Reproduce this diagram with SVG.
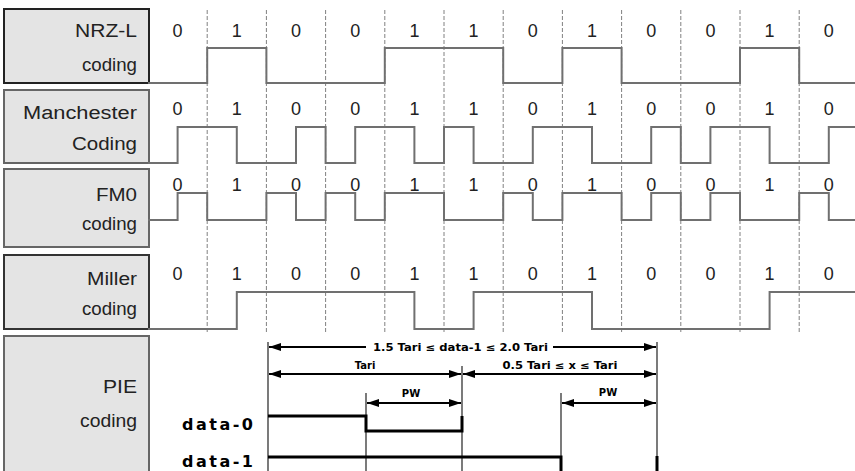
<svg xmlns="http://www.w3.org/2000/svg" width="855" height="471" viewBox="0 0 855 471">
<style>
.box{fill:#e4e4e4;stroke:#555;stroke-width:2}
.lbl{font-family:"Liberation Sans",Arial,sans-serif;font-size:18px;fill:#222}
.dig{font-family:"Liberation Sans",Arial,sans-serif;font-size:18px;fill:#222;text-anchor:middle}
.wave{fill:none;stroke:#707070;stroke-width:2}
.grid{stroke:#808080;stroke-width:1;stroke-dasharray:4 2}
.thin{stroke:#222;stroke-width:1.2}
.dim{stroke:#000;stroke-width:2;fill:none}
.bold{font-family:"DejaVu Sans",Verdana,sans-serif;font-weight:bold;font-size:10px;fill:#000;text-anchor:middle}
.data{font-family:"DejaVu Sans",Verdana,sans-serif;font-weight:bold;font-size:16px;fill:#000}
.sig{fill:none;stroke:#000;stroke-width:3}
</style>
<defs>
<marker id="ah" viewBox="0 0 12 8" refX="12" refY="4" markerWidth="12" markerHeight="8" markerUnits="userSpaceOnUse" orient="auto-start-reverse">
<path d="M0,0 L12,4 L0,8 Z" fill="#000"/>
</marker>
</defs>
<g id="grid">
<line class="grid" x1="207.2" y1="10" x2="207.2" y2="332"/>
<line class="grid" x1="266.4" y1="10" x2="266.4" y2="332"/>
<line class="grid" x1="325.6" y1="10" x2="325.6" y2="332"/>
<line class="grid" x1="384.8" y1="10" x2="384.8" y2="332"/>
<line class="grid" x1="444" y1="10" x2="444" y2="332"/>
<line class="grid" x1="503.2" y1="10" x2="503.2" y2="332"/>
<line class="grid" x1="562.4" y1="10" x2="562.4" y2="332"/>
<line class="grid" x1="621.6" y1="10" x2="621.6" y2="332"/>
<line class="grid" x1="680.8" y1="10" x2="680.8" y2="332"/>
<line class="grid" x1="740" y1="10" x2="740" y2="332"/>
<line class="grid" x1="799.2" y1="10" x2="799.2" y2="332"/>
</g>
<g id="nrzl">
<rect class="box" x="4" y="9" width="145" height="74" style="stroke:#222"/>
<text class="lbl" x="75" y="37" textLength="62" lengthAdjust="spacingAndGlyphs">NRZ-L</text>
<text class="lbl" x="82" y="71" textLength="55" lengthAdjust="spacingAndGlyphs">coding</text>
<text class="dig" x="177.6" y="37">0</text><text class="dig" x="236.8" y="37">1</text><text class="dig" x="296" y="37">0</text><text class="dig" x="355.2" y="37">0</text><text class="dig" x="414.4" y="37">1</text><text class="dig" x="473.6" y="37">1</text><text class="dig" x="532.8" y="37">0</text><text class="dig" x="592" y="37">1</text><text class="dig" x="651.2" y="37">0</text><text class="dig" x="710.4" y="37">0</text><text class="dig" x="769.6" y="37">1</text><text class="dig" x="828.8" y="37">0</text>
<path class="wave" d="M148,83 H207.2 V48 H266.4 V83 H384.8 V48 H503.2 V83 H562.4 V48 H621.6 V83 H740 V48 H799.2 V83 H855"/>
</g>
<g id="manchester">
<rect class="box" x="4" y="90" width="145" height="73" style="stroke:#666"/>
<text class="lbl" x="23" y="119" textLength="114" lengthAdjust="spacingAndGlyphs">Manchester</text>
<text class="lbl" x="72" y="150" textLength="65" lengthAdjust="spacingAndGlyphs">Coding</text>
<text class="dig" x="177.6" y="115">0</text><text class="dig" x="236.8" y="115">1</text><text class="dig" x="296" y="115">0</text><text class="dig" x="355.2" y="115">0</text><text class="dig" x="414.4" y="115">1</text><text class="dig" x="473.6" y="115">1</text><text class="dig" x="532.8" y="115">0</text><text class="dig" x="592" y="115">1</text><text class="dig" x="651.2" y="115">0</text><text class="dig" x="710.4" y="115">0</text><text class="dig" x="769.6" y="115">1</text><text class="dig" x="828.8" y="115">0</text>
<path class="wave" d="M148,163 H177.6 V127 H236.8 V163 H296 V127 H325.6 V163 H355.2 V127 H414.4 V163 H444 V127 H473.6 V163 H532.8 V127 H592 V163 H651.2 V127 H680.8 V163 H710.4 V127 H769.6 V163 H828.8 V127 H855"/>
</g>
<g id="fm0">
<rect class="box" x="4" y="169" width="145" height="78" style="stroke:#666"/>
<text class="lbl" x="96" y="201" textLength="41" lengthAdjust="spacingAndGlyphs">FM0</text>
<text class="lbl" x="82" y="230" textLength="55" lengthAdjust="spacingAndGlyphs">coding</text>
<text class="dig" x="177.6" y="191">0</text><text class="dig" x="236.8" y="191">1</text><text class="dig" x="296" y="191">0</text><text class="dig" x="355.2" y="191">0</text><text class="dig" x="414.4" y="191">1</text><text class="dig" x="473.6" y="191">1</text><text class="dig" x="532.8" y="191">0</text><text class="dig" x="592" y="191">1</text><text class="dig" x="651.2" y="191">0</text><text class="dig" x="710.4" y="191">0</text><text class="dig" x="769.6" y="191">1</text><text class="dig" x="828.8" y="191">0</text>
<path class="wave" d="M148,220 H177.6 V193 H207.2 V220 H266.4 V193 H296 V220 H325.6 V193 H355.2 V220 H384.8 V193 H444 V220 H503.2 V193 H532.8 V220 H562.4 V193 H621.6 V220 H651.2 V193 H680.8 V220 H710.4 V193 H740 V220 H799.2 V193 H828.8 V220 H855"/>
</g>
<g id="miller">
<rect class="box" x="4" y="255" width="145" height="74" style="stroke:#333"/>
<text class="lbl" x="87" y="285" textLength="50" lengthAdjust="spacingAndGlyphs">Miller</text>
<text class="lbl" x="82" y="315" textLength="55" lengthAdjust="spacingAndGlyphs">coding</text>
<text class="dig" x="177.6" y="280">0</text><text class="dig" x="236.8" y="280">1</text><text class="dig" x="296" y="280">0</text><text class="dig" x="355.2" y="280">0</text><text class="dig" x="414.4" y="280">1</text><text class="dig" x="473.6" y="280">1</text><text class="dig" x="532.8" y="280">0</text><text class="dig" x="592" y="280">1</text><text class="dig" x="651.2" y="280">0</text><text class="dig" x="710.4" y="280">0</text><text class="dig" x="769.6" y="280">1</text><text class="dig" x="828.8" y="280">0</text>
<path class="wave" d="M148,329 H236.8 V292 H414.4 V329 H473.6 V292 H592 V329 H769.6 V292 H855"/>
</g>
<g id="pie">
<rect class="box" x="4" y="336" width="145" height="145" style="stroke:#666"/>
<text class="lbl" x="103" y="393" textLength="34" lengthAdjust="spacingAndGlyphs">PIE</text>
<text class="lbl" x="80" y="427" textLength="57" lengthAdjust="spacingAndGlyphs">coding</text>
<text class="data" x="182" y="430" textLength="71" lengthAdjust="spacing">data-0</text>
<text class="data" x="182" y="467" textLength="71" lengthAdjust="spacing">data-1</text>
<line class="thin" x1="268" y1="342" x2="268" y2="471"/>
<line class="thin" x1="462" y1="366" x2="462" y2="471"/>
<line class="thin" x1="366" y1="393" x2="366" y2="471"/>
<line class="thin" x1="561" y1="393" x2="561" y2="471"/>
<line class="thin" x1="657" y1="342" x2="657" y2="471"/>
<path class="sig" d="M268,416 H366 V431 H462 V416"/>
<path class="sig" d="M268,457 H561 V471"/>
<path class="sig" d="M657,456 V471"/>
</g>
<g id="connectors">
<line class="dim" x1="366" y1="347" x2="269" y2="347" marker-end="url(#ah)"/>
<line class="dim" x1="553" y1="347" x2="656" y2="347" marker-end="url(#ah)"/>
<line class="dim" x1="269" y1="374" x2="461" y2="374" marker-start="url(#ah)" marker-end="url(#ah)"/>
<line class="dim" x1="463" y1="374" x2="656" y2="374" marker-start="url(#ah)" marker-end="url(#ah)"/>
<line class="dim" x1="367" y1="403" x2="461" y2="403" marker-start="url(#ah)" marker-end="url(#ah)"/>
<line class="dim" x1="562" y1="403" x2="656" y2="403" marker-start="url(#ah)" marker-end="url(#ah)"/>
<text class="bold" x="460.5" y="351" textLength="175" lengthAdjust="spacingAndGlyphs">1.5 Tari ≤ data-1 ≤ 2.0 Tari</text>
<text class="bold" x="365" y="369">Tari</text>
<text class="bold" x="560" y="369" textLength="115" lengthAdjust="spacingAndGlyphs">0.5 Tari ≤ x ≤ Tari</text>
<text class="bold" x="411" y="397">PW</text>
<text class="bold" x="608" y="396">PW</text>
</g>
</svg>
